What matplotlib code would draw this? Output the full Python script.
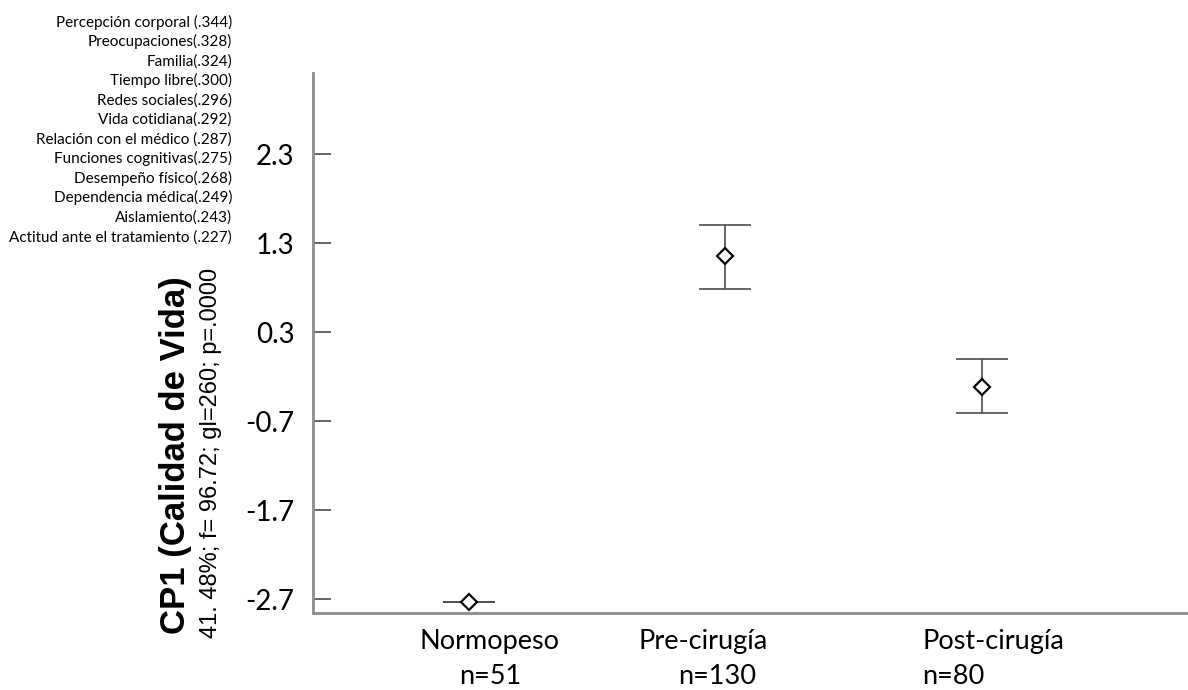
import matplotlib
matplotlib.use("Agg")
import matplotlib.pyplot as plt
from matplotlib.ticker import FixedLocator, FixedFormatter

# ---- data ----
groups = ["Normopeso", "Pre-cirugía", "Post-cirugía"]
n_labels = ["n=51", "n=130", "n=80"]
means = [-2.73, 1.158, -0.313]
upper = [-2.727, 1.506, -0.005]
lower = [-2.733, 0.781, -0.605]
ytick_vals = [2.3, 1.3, 0.3, -0.7, -1.7, -2.7]
ytick_labels = ["2.3", "1.3", "0.3", "-0.7", "-1.7", "-2.7"]
loadings = [
    "Percepción corporal (.344)",
    "Preocupaciones(.328)",
    "Familia(.324)",
    "Tiempo libre(.300)",
    "Redes sociales(.296)",
    "Vida cotidiana(.292)",
    "Relación con el médico (.287)",
    "Funciones cognitivas(.275)",
    "Desempeño físico(.268)",
    "Dependencia médica(.249)",
    "Aislamiento(.243)",
    "Actitud ante el tratamiento (.227)",
]
ylabel_main = "CP1 (Calidad de Vida)"
ylabel_sub = "41. 48%; f= 96.72; gl=260; p=.0000"

W, H = 1188, 690
fig = plt.figure(figsize=(W / 100, H / 100), dpi=100)
ax = fig.add_axes([312.7 / W, 1 - 613.3 / H, (1187 - 312.7) / W, (613.3 - 72.7) / H])

xs = list(range(len(groups)))
yerr = [[m - lo for m, lo in zip(means, lower)], [u - m for m, u in zip(means, upper)]]
ax.errorbar(xs, means, yerr=yerr, fmt="none", ecolor="#4d4d4d", elinewidth=1.2,
            capsize=18.8, capthick=1.2, zorder=2)
ax.plot(xs, means, linestyle="none", marker="D", markersize=8, markerfacecolor="white",
        markeredgecolor="black", markeredgewidth=1.6, zorder=3)

ax.set_xlim(-0.609, 2.80)
ax.set_ylim(-2.857, 3.213)

for s in ["top", "right"]:
    ax.spines[s].set_visible(False)
for s in ["left", "bottom"]:
    ax.spines[s].set_color("#8c8c8c")
    ax.spines[s].set_linewidth(2)

ax.yaxis.set_major_locator(FixedLocator(ytick_vals))
ax.yaxis.set_major_formatter(FixedFormatter(ytick_labels))
ax.tick_params(axis="y", direction="in", length=13, width=1.2, color="#4d4d4d",
               pad=13, labelsize=20)
for t in ax.get_yticklabels():
    t.set_fontfamily("Lato")
ax.set_xticks([])

# category labels
name_x = [490, 703, 993]
n_x = [490, 717, 953]
for g, nl, px1, px2 in zip(groups, n_labels, name_x, n_x):
    fig.text(px1 / W, 1 - 641 / H, g, ha="center", va="center", fontsize=19.5, family="Lato")
    fig.text(px2 / W, 1 - 677 / H, nl, ha="center", va="center", fontsize=19.5, family="Lato")

# loadings list
y0, dy = 22, 19.55
for i, lab in enumerate(loadings):
    fig.text(232 / W, 1 - (y0 + i * dy) / H, lab, ha="right", va="center",
             fontsize=11, family="Lato")

# y labels
fig.text(176 / W, 1 - 455 / H, ylabel_main, rotation=90, ha="center", va="center",
         fontsize=25, fontweight="bold", family="Liberation Sans")
fig.text(211 / W, 1 - 453 / H, ylabel_sub, rotation=90, ha="center", va="center",
         fontsize=17, family="Liberation Sans")

fig.savefig("out.png", dpi=100)
